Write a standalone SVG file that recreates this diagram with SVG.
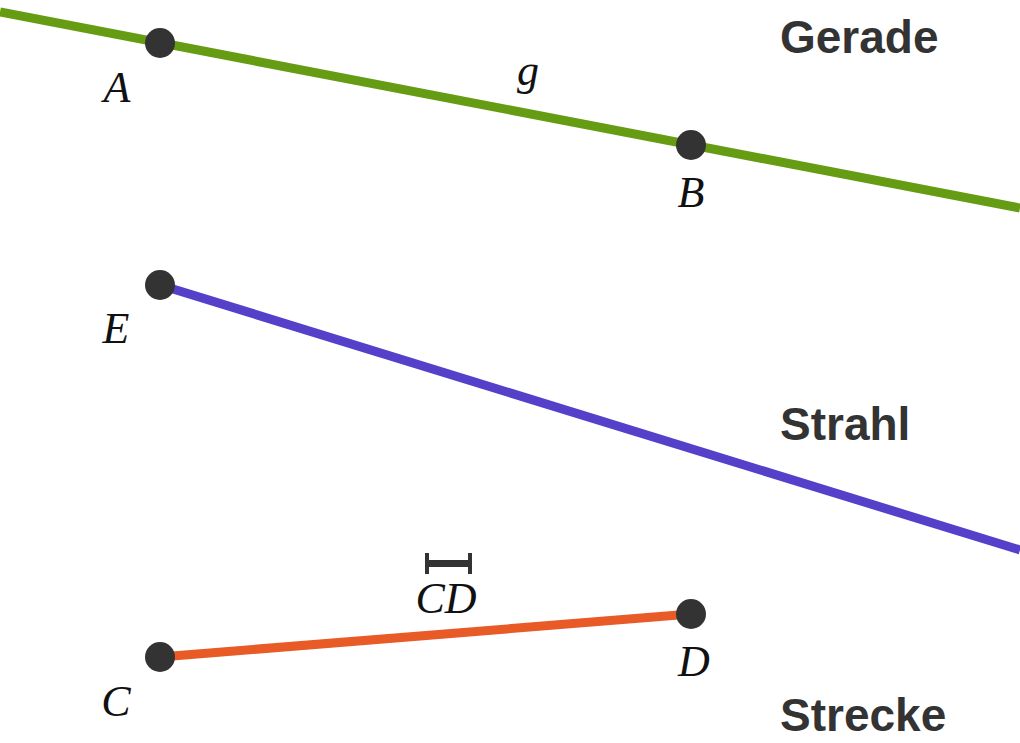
<svg xmlns="http://www.w3.org/2000/svg" width="1020" height="743" viewBox="0 0 1020 743">
<style>
.pt{fill:#333333}
.lbl{font-family:"Liberation Serif",serif;font-style:italic;font-size:44px;fill:#111111;text-anchor:middle}
.ttl{font-family:"Liberation Sans",sans-serif;font-weight:bold;font-size:46px;fill:#333333}
.ln{stroke-width:9;fill:none;stroke-linecap:butt}
</style>
<rect width="1020" height="743" fill="#ffffff"/>
<g id="connectors">
<line class="ln" x1="0" y1="12" x2="1020" y2="208" stroke="#669c14"/>
<line class="ln" x1="160" y1="285" x2="1020" y2="550" stroke="#5541c9"/>
<line class="ln" x1="160" y1="657" x2="691" y2="614" stroke="#e85a26"/>
</g>
<g id="pointA"><circle class="pt" cx="160" cy="43" r="15"/><text class="lbl" x="117" y="102">A</text></g>
<g id="pointB"><circle class="pt" cx="691" cy="145" r="15"/><text class="lbl" x="691" y="207">B</text></g>
<g id="labelg"><text class="lbl" x="528" y="85">g</text></g>
<g id="pointE"><circle class="pt" cx="160" cy="285" r="15"/><text class="lbl" x="116" y="343">E</text></g>
<g id="pointC"><circle class="pt" cx="160" cy="657" r="15"/><text class="lbl" x="116" y="716">C</text></g>
<g id="pointD"><circle class="pt" cx="691" cy="614" r="15"/><text class="lbl" x="694" y="676">D</text></g>
<g id="labelCD">
<text class="lbl" x="446" y="613">CD</text>
<path d="M427 560 H470 V567 H427 Z M425 553 H429 V574 H425 Z M468 553 H472 V574 H468 Z" fill="#333333"/>
</g>
<g id="titleGerade"><text class="ttl" x="780" y="53">Gerade</text></g>
<g id="titleStrahl"><text class="ttl" x="780" y="440">Strahl</text></g>
<g id="titleStrecke"><text class="ttl" x="780" y="731">Strecke</text></g>
</svg>
